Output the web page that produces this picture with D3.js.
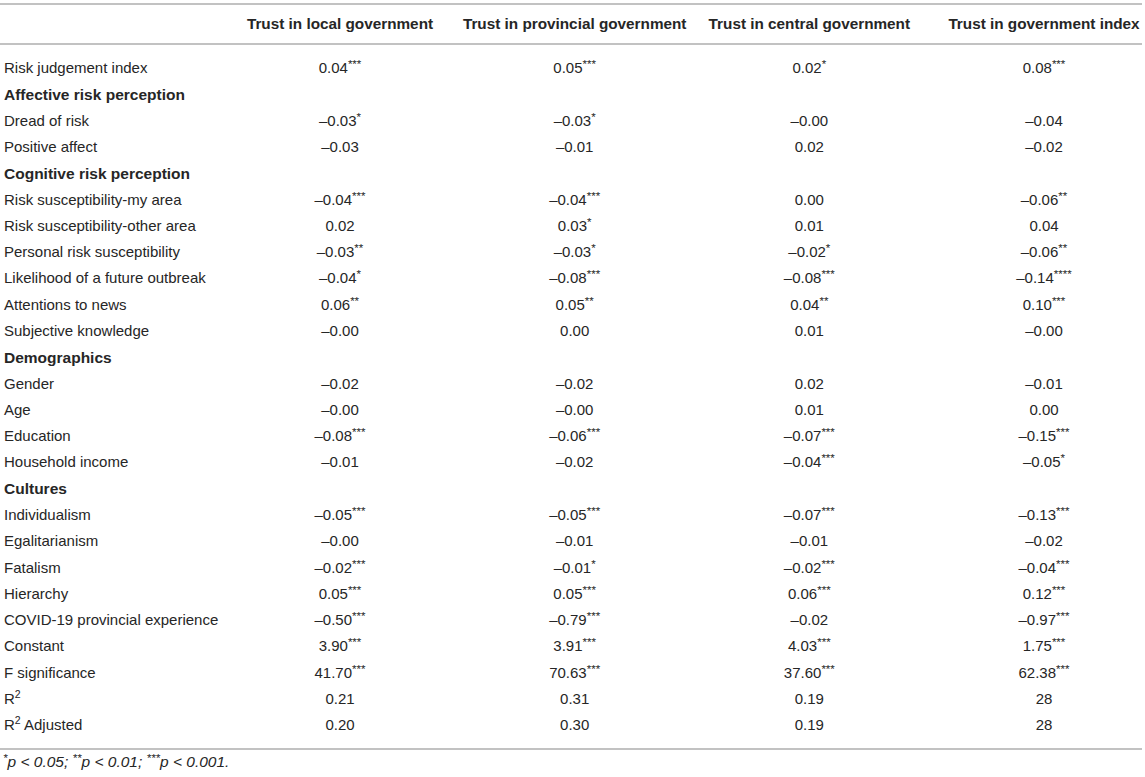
<!DOCTYPE html>
<html><head><meta charset="utf-8">
<script src="https://cdn.jsdelivr.net/npm/d3@7"></script>
<style>
body{margin:0;background:#fff;}
svg{display:block;font-family:"Liberation Sans",Arial,Helvetica,sans-serif;}
</style></head>
<body>
<script>
const columns = ["Trust in local government","Trust in provincial government","Trust in central government","Trust in government index"];
const rowLabels = ["Risk judgement index","Affective risk perception","Dread of risk","Positive affect","Cognitive risk perception","Risk susceptibility-my area","Risk susceptibility-other area","Personal risk susceptibility","Likelihood of a future outbreak","Attentions to news","Subjective knowledge","Demographics","Gender","Age","Education","Household income","Cultures","Individualism","Egalitarianism","Fatalism","Hierarchy","COVID-19 provincial experience","Constant","F significance","R2","R2 Adjusted"];
const sectionRows = ["Affective risk perception","Cognitive risk perception","Demographics","Cultures"];
const localGov = ["0.04***","","–0.03*","–0.03","","–0.04***","0.02","–0.03**","–0.04*","0.06**","–0.00","","–0.02","–0.00","–0.08***","–0.01","","–0.05***","–0.00","–0.02***","0.05***","–0.50***","3.90***","41.70***","0.21","0.20"];
const provincialGov = ["0.05***","","–0.03*","–0.01","","–0.04***","0.03*","–0.03*","–0.08***","0.05**","0.00","","–0.02","–0.00","–0.06***","–0.02","","–0.05***","–0.01","–0.01*","0.05***","–0.79***","3.91***","70.63***","0.31","0.30"];
const centralGov = ["0.02*","","–0.00","0.02","","0.00","0.01","–0.02*","–0.08***","0.04**","0.01","","0.02","0.01","–0.07***","–0.04***","","–0.07***","–0.01","–0.02***","0.06***","–0.02","4.03***","37.60***","0.19","0.19"];
const govIndex = ["0.08***","","–0.04","–0.02","","–0.06**","0.04","–0.06**","–0.14****","0.10***","–0.00","","–0.01","0.00","–0.15***","–0.05*","","–0.13***","–0.02","–0.04***","0.12***","–0.97***","1.75***","62.38***","28","28"];
const footnote = "*p < 0.05; **p < 0.01; ***p < 0.001.";

const W = 1145, H = 777;
const textColor = "#262626", lineColor = "#c2c2c2";
const svg = d3.select("body").append("svg").attr("width", W).attr("height", H);

const x = d3.scalePoint().domain(columns).range([340, 1044]);
const y = d3.scaleLinear().domain([0, rowLabels.length - 1]).range([68, 725]);
const series = [localGov, provincialGov, centralGov, govIndex];

// rules
[4, 44, 749].forEach(yy => svg.append("line").attr("x1", 0).attr("x2", 1142)
  .attr("y1", yy).attr("y2", yy).attr("stroke", lineColor).attr("stroke-width", 2));

// header
svg.selectAll("text.hdr").data(columns).join("text").attr("class","hdr")
  .attr("x", d => x(d)).attr("y", 24).attr("dy", "0.35em")
  .attr("text-anchor", "middle").attr("font-weight", "bold").attr("font-size", 15.3)
  .attr("fill", textColor).text(d => d);

// row labels
const lab = svg.selectAll("text.lab").data(rowLabels).join("text").attr("class","lab")
  .attr("x", 4).attr("y", (d,i) => y(i)).attr("dy", "0.35em")
  .attr("fill", textColor)
  .attr("font-size", d => sectionRows.includes(d) ? 15.5 : 15)
  .attr("font-weight", d => sectionRows.includes(d) ? "bold" : "normal");
lab.each(function(d){
  const t = d3.select(this);
  if (d.startsWith("R2")) {
    t.append("tspan").text("R");
    t.append("tspan").attr("font-size", 10.5).attr("dy", -6).text("2");
    const rest = d.slice(2);
    if (rest) t.append("tspan").attr("dy", 6).text(rest);
  } else t.text(d);
});

// values
series.forEach((vals, ci) => {
  svg.selectAll("text.c" + ci).data(vals).join("text").attr("class", "c" + ci)
    .attr("x", x(columns[ci])).attr("y", (d,i) => y(i)).attr("dy", "0.35em")
    .attr("text-anchor", "middle").attr("font-size", 15).attr("fill", textColor)
    .each(function(d){
      const m = d.match(/^([^*]*)(\**)$/);
      const t = d3.select(this);
      t.append("tspan").text(m[1]);
      if (m[2]) t.append("tspan").attr("font-size", 11.5).attr("dy", -5).text(m[2]);
    });
});

// footnote
const fn = svg.append("text").attr("x", 3).attr("y", 767)
  .attr("font-size", 15.5).attr("font-style", "italic").attr("fill", textColor);
let up = false;
footnote.split(/(\*+)/).filter(s => s).forEach(s => {
  if (s.startsWith("*")) { fn.append("tspan").attr("font-size", 11.5).attr("dy", -5).text(s); up = true; }
  else { fn.append("tspan").attr("dy", up ? 5 : 0).text(s); up = false; }
});
</script>
</body></html>
